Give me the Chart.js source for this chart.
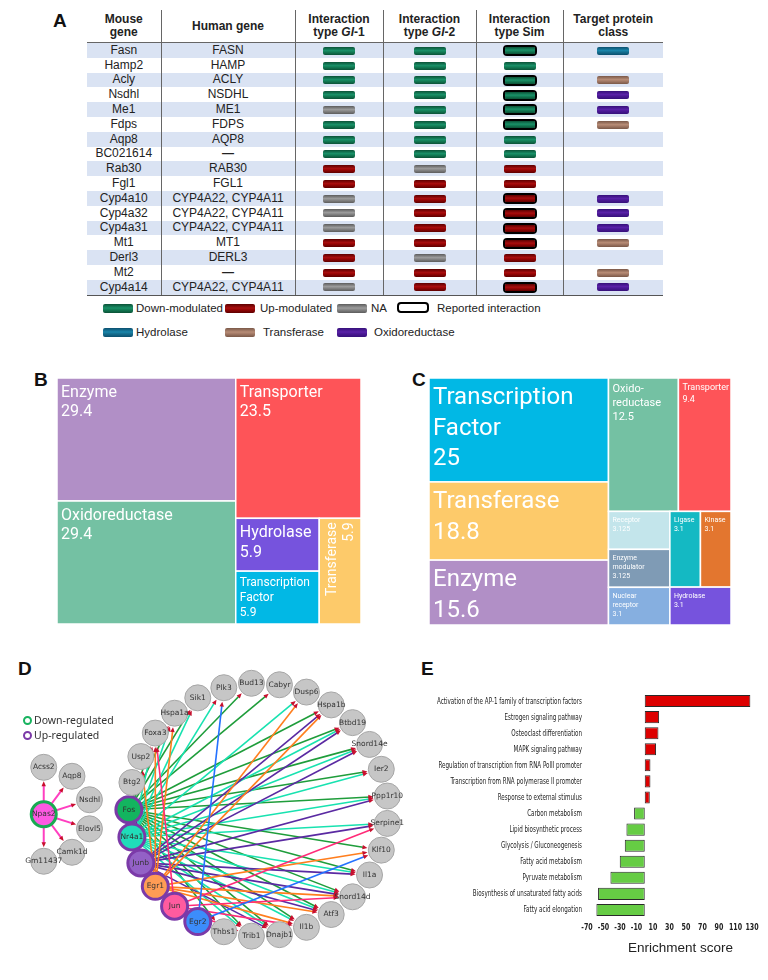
<!DOCTYPE html>
<html>
<head>
<meta charset="utf-8">
<title>Figure</title>
<script src="https://cdn.jsdelivr.net/npm/chart.js@4.4.1/dist/chart.umd.min.js"></script>
<style>
  body { margin: 0; width: 768px; height: 980px; position: relative; overflow: hidden; background: #fff;
         font-family: "Liberation Sans", Arial, sans-serif; color: #222; }
  canvas { position: absolute; }
  .panel { position: absolute; font: bold 19px/19px "Liberation Sans", Arial, sans-serif; color: #111; }
  #tableA { position: absolute; left: 87px; top: 10px; width: 576px; border-collapse: collapse; table-layout: fixed; font-size: 12px; }
  #tableA th { height: 32px; padding: 0; font-weight: bold; line-height: 13px; border-bottom: 1.5px solid #666; color: #222; vertical-align: middle; }
  #tableA td { height: 14.8px; padding: 0; line-height: 13px; text-align: center; white-space: nowrap; vertical-align: middle; }
  #tableA tbody tr:nth-child(odd) td { background: #dae3f3; }
  #tableA th + th, #tableA td + td { border-left: 1px solid #666; }
  #tableA tbody tr:last-child td { border-bottom: 1.5px solid #555; }
  .pill { display: inline-block; width: 32px; height: 8px; border-radius: 2px; vertical-align: middle; }
  .rep { display: inline-block; border: 2.5px solid #000; border-radius: 4px; line-height: 0; vertical-align: middle; }
  .rep .pill { width: 30px; height: 7px; border-radius: 1px; }
  .down { background: linear-gradient(#0b5237, #1a9068 45%, #138058 60%, #0b5237); }
  .up { background: linear-gradient(#5e0000, #a80e0e 45%, #990505 60%, #5e0000); }
  .na { background: linear-gradient(#5c5c5c, #9c9c9c 45%, #8a8a8a 60%, #5c5c5c); }
  .hydrolase { background: linear-gradient(#0c4f6e, #1a86ab 45%, #167394 60%, #0c4f6e); }
  .transferase { background: linear-gradient(#7a5848, #b78c76 45%, #a87e6a 60%, #7a5848); }
  .oxidoreductase { background: linear-gradient(#36107a, #5a22a8 45%, #4d1a98 60%, #36107a); }
  .legA { position: absolute; font-size: 11.5px; line-height: 14px; color: #222; white-space: nowrap; }
  .sw { position: absolute; width: 30px; height: 9px; border-radius: 2px; }
  .swRep { position: absolute; width: 28px; height: 7px; border: 2.5px solid #000; border-radius: 4px; background: #fff; }
  .legD { position: absolute; left: 23px; font: 10.5px/14px "Noto Sans", sans-serif; color: #333; white-space: nowrap; }
  .legD span { display: inline-block; width: 5px; height: 5px; border: 2px solid; border-radius: 50%; margin-right: 2px; vertical-align: -1px; }
  #eTitle { position: absolute; left: 628px; top: 940px; width: 104px; text-align: center; font-size: 13.5px; line-height: 16px; color: #222; white-space: nowrap; }
</style>
</head>
<body>

<div class="panel" style="left:53px;top:11px">A</div>
<div class="panel" style="left:34px;top:370px">B</div>
<div class="panel" style="left:412px;top:370px">C</div>
<div class="panel" style="left:18px;top:659px">D</div>
<div class="panel" style="left:421px;top:659px">E</div>

<table id="tableA">
  <colgroup><col style="width:74px"><col style="width:134px"><col style="width:88px"><col style="width:93px"><col style="width:87px"><col style="width:100px"></colgroup>
  <thead><tr>
    <th>Mouse<br>gene</th><th>Human gene</th><th>Interaction<br>type <i>GI</i>-1</th>
    <th>Interaction<br>type <i>GI</i>-2</th><th>Interaction<br>type Sim</th><th>Target protein<br>class</th>
  </tr></thead>
  <tbody id="tableBody"></tbody>
</table>

<div class="sw down" style="left:103px;top:304px"></div><div class="legA" style="left:136px;top:301px">Down-modulated</div>
<div class="sw up" style="left:225px;top:304px"></div><div class="legA" style="left:260px;top:301px">Up-modulated</div>
<div class="sw na" style="left:337px;top:304px"></div><div class="legA" style="left:371px;top:301px">NA</div>
<div class="swRep" style="left:397px;top:302px"></div><div class="legA" style="left:437px;top:301px">Reported interaction</div>
<div class="sw hydrolase" style="left:103px;top:328px"></div><div class="legA" style="left:136px;top:325px">Hydrolase</div>
<div class="sw transferase" style="left:225px;top:328px"></div><div class="legA" style="left:263px;top:325px">Transferase</div>
<div class="sw oxidoreductase" style="left:337px;top:328px"></div><div class="legA" style="left:374px;top:325px">Oxidoreductase</div>

<canvas id="chartB" width="304" height="246" style="left:57px;top:378px"></canvas>
<canvas id="chartC" width="302" height="247" style="left:429px;top:378px"></canvas>
<canvas id="chartD" width="430" height="335" style="left:0px;top:640px"></canvas>
<canvas id="chartE" width="388" height="330" style="left:380px;top:640px"></canvas>

<div class="legD" style="top:713px"><span style="border-color:#18b35f"></span>Down-regulated</div>
<div class="legD" style="top:728px"><span style="border-color:#7b3aa8"></span>Up-regulated</div>
<div id="eTitle">Enrichment score</div>

<script>
// ---------- Panel A: gene table ----------
const mouseGenes = ['Fasn', 'Hamp2', 'Acly', 'Nsdhl', 'Me1', 'Fdps', 'Aqp8', 'BC021614', 'Rab30', 'Fgl1',
                    'Cyp4a10', 'Cyp4a32', 'Cyp4a31', 'Mt1', 'Derl3', 'Mt2', 'Cyp4a14'];
const humanGenes = ['FASN', 'HAMP', 'ACLY', 'NSDHL', 'ME1', 'FDPS', 'AQP8', '—', 'RAB30', 'FGL1',
                    'CYP4A22, CYP4A11', 'CYP4A22, CYP4A11', 'CYP4A22, CYP4A11', 'MT1', 'DERL3', '—', 'CYP4A22, CYP4A11'];
const typeGI1 = ['down', 'down', 'down', 'down', 'na', 'down', 'down', 'down', 'up', 'up', 'na', 'na', 'na', 'up', 'up', 'up', 'na'];
const typeGI2 = ['down', 'down', 'down', 'down', 'down', 'down', 'down', 'down', 'na', 'up', 'up', 'up', 'up', 'up', 'na', 'up', 'up'];
const typeSim = ['down', 'down', 'down', 'down', 'down', 'down', 'down', 'down', 'up', 'up', 'up', 'up', 'up', 'up', 'up', 'up', 'up'];
const reportedSim = [1, 0, 1, 1, 1, 1, 0, 0, 0, 0, 1, 1, 1, 1, 0, 0, 1];
const targetClass = ['hydrolase', '', 'transferase', 'oxidoreductase', 'oxidoreductase', 'transferase', '', '', '', '',
                     'oxidoreductase', 'oxidoreductase', 'oxidoreductase', 'transferase', '', 'transferase', 'oxidoreductase'];

// ---------- Panel B / C: protein class treemaps (percent) ----------
const bClasses = ['Enzyme', 'Oxidoreductase', 'Transporter', 'Hydrolase', 'Transcription Factor', 'Transferase'];
const bPercent = [29.4, 29.4, 23.5, 5.9, 5.9, 5.9];
const cClasses = ['Transcription Factor', 'Transferase', 'Enzyme', 'Oxidoreductase', 'Transporter', 'Receptor',
                  'Enzyme modulator', 'Nuclear receptor', 'Ligase', 'Kinase', 'Hydrolase'];
const cPercent = [25, 18.8, 15.6, 12.5, 9.4, 3.125, 3.125, 3.1, 3.1, 3.1, 3.1];

// ---------- Panel D: regulatory network ----------
const ringNodes = ['Fos', 'Nr4a1', 'Junb', 'Egr1', 'Jun', 'Egr2', 'Thbs1', 'Trib1', 'Dnajb1', 'Il1b', 'Atf3', 'Snord14d',
                   'Il1a', 'Klf10', 'Serpine1', 'Ppp1r10', 'Ier2', 'Snord14e', 'Btbd19', 'Hspa1b', 'Dusp6', 'Cabyr',
                   'Bud13', 'Plk3', 'Sik1', 'Hspa1a', 'Foxa3', 'Usp2', 'Btg2'];
const regulators = ['Fos', 'Nr4a1', 'Junb', 'Egr1', 'Jun', 'Egr2'];
const fosTargets = ['Foxa3', 'Hspa1a', 'Sik1', 'Bud13', 'Cabyr', 'Hspa1b', 'Btbd19', 'Snord14e', 'Ier2', 'Ppp1r10',
                    'Klf10', 'Il1a', 'Snord14d', 'Atf3', 'Il1b', 'Dnajb1', 'Trib1', 'Thbs1'];
const nr4a1Targets = ['Foxa3', 'Hspa1a', 'Sik1', 'Plk3', 'Dusp6', 'Btbd19', 'Snord14e', 'Ier2', 'Ppp1r10', 'Serpine1',
                      'Il1a', 'Snord14d', 'Atf3', 'Il1b', 'Dnajb1', 'Trib1'];
const junbTargets = ['Btg2', 'Hspa1b', 'Btbd19', 'Snord14e', 'Ppp1r10', 'Serpine1', 'Il1a', 'Snord14d', 'Atf3', 'Dnajb1'];
const egr1Targets = ['Usp2', 'Foxa3', 'Hspa1a', 'Dusp6', 'Hspa1b', 'Klf10', 'Snord14d', 'Atf3', 'Il1b'];
const junTargets = ['Foxa3', 'Serpine1', 'Snord14d', 'Il1b', 'Trib1'];
const egr2Targets = ['Plk3', 'Klf10', 'Thbs1'];
const hubNode = 'Npas2';
const hubTargets = ['Acss2', 'Aqp8', 'Nsdhl', 'Elovl5', 'Camk1d', 'Gm11437'];

// ---------- Panel E: enrichment ----------
const terms = ['Activation of the AP-1 family of transcription factors', 'Estrogen signaling pathway',
               'Osteoclast differentiation', 'MAPK signaling pathway', 'Regulation of transcription from RNA PolII promoter',
               'Transcription from RNA polymerase II promoter', 'Response to external stimulus', 'Carbon metabolism',
               'Lipid biosynthetic process', 'Glycolysis / Gluconeogenesis', 'Fatty acid metabolism', 'Pyruvate metabolism',
               'Biosynthesis of unsaturated fatty acids', 'Fatty acid elongation'];
const enrichment = [128, 17.4, 16.6, 13.7, 6.9, 6.9, 6.1, -12.9, -22.2, -24.2, -30.3, -41.6, -56.6, -58.6];
const enrichmentTicks = [-70, -50, -30, -10, 10, 30, 50, 70, 90, 110, 130];

// ---------- styles ----------
const classColours = {
  'Enzyme': '#b18fc6', 'Oxidoreductase': '#74c1a3', 'Transporter': '#fe5458', 'Hydrolase': '#7653dd',
  'Transcription Factor': '#01b8e5', 'Transferase': '#fdca6a', 'Receptor': '#c3e5eb',
  'Enzyme modulator': '#7f9bb5', 'Nuclear receptor': '#86afe0', 'Ligase': '#14b9c3', 'Kinase': '#e3762f'
};
const regulatorFill = {Fos: '#13b45f', Nr4a1: '#20dcb9', Junb: '#9361c6', Egr1: '#ff9c55', Jun: '#ff5b9f', Egr2: '#3c8dfb'};
const edgeColour = {Fos: '#1f9d3b', Nr4a1: '#18e2b0', Junb: '#5a2aa2', Egr1: '#ff7e1e', Jun: '#ff2b78', Egr2: '#2472ff'};
const narrowFont = '"Liberation Sans Narrow", "DejaVu Sans Condensed", "Liberation Sans", sans-serif';

Chart.defaults.animation = false;
Chart.defaults.color = '#222';

// build table
function pill(kind) { return kind ? '<span class="pill ' + kind + '"></span>' : ''; }
const tbody = document.getElementById('tableBody');
mouseGenes.forEach((g, i) => {
  const sim = reportedSim[i] ? '<span class="rep">' + pill(typeSim[i]) + '</span>' : pill(typeSim[i]);
  const human = humanGenes[i] === '—' ? '<b>—</b>' : humanGenes[i];
  tbody.insertAdjacentHTML('beforeend',
    '<tr><td>' + g + '</td><td>' + human + '</td><td>' + pill(typeGI1[i]) + '</td><td>' + pill(typeGI2[i]) +
    '</td><td>' + sim + '</td><td>' + pill(targetClass[i]) + '</td></tr>');
});

// squarified treemap (golden ratio), same rule as d3.treemapSquarify
function squarify(values, x0, y0, x1, y1, ratio) {
  const rects = [];
  let value = values.reduce((a, b) => a + b, 0);
  let i0 = 0, i1 = 0;
  const n = values.length;
  while (i0 < n) {
    const dx = x1 - x0, dy = y1 - y0;
    let sum = values[i1++];
    let minV = sum, maxV = sum;
    const alpha = Math.max(dy / dx, dx / dy) / (value * ratio);
    let beta = sum * sum * alpha;
    let minRatio = Math.max(maxV / beta, beta / minV);
    for (; i1 < n; ++i1) {
      const v = values[i1];
      sum += v;
      if (v < minV) minV = v;
      if (v > maxV) maxV = v;
      beta = sum * sum * alpha;
      const r = Math.max(maxV / beta, beta / minV);
      if (r > minRatio) { sum -= v; break; }
      minRatio = r;
    }
    if (dx < dy) {
      const yy = y0 + dy * sum / value;
      let x = x0;
      for (let i = i0; i < i1; i++) { const w = dx * values[i] / sum; rects[i] = [x, y0, x + w, yy]; x += w; }
      y0 = yy;
    } else {
      const xx = x0 + dx * sum / value;
      let y = y0;
      for (let i = i0; i < i1; i++) { const h = dy * values[i] / sum; rects[i] = [x0, y, xx, y + h]; y += h; }
      x0 = xx;
    }
    value -= sum;
    i0 = i1;
  }
  return rects;
}

const treemapPlugin = {
  id: 'treemapCells',
  afterDatasetsDraw(chart, args, opts) {
    const {ctx, scales: {x, y}} = chart;
    const ds = chart.data.datasets[0];
    ctx.save();
    ds.data.forEach((d, i) => {
      const l = x.getPixelForValue(d.x0), r = x.getPixelForValue(d.x1);
      const t = y.getPixelForValue(d.y0), b = y.getPixelForValue(d.y1);
      const name = chart.data.labels[i];
      ctx.fillStyle = classColours[name];
      ctx.fillRect(l, t, r - l, b - t);
      ctx.strokeStyle = '#fff';
      ctx.lineWidth = 1.5;
      ctx.strokeRect(l, t, r - l, b - t);

      const size = opts.sizes[i];
      const lh = size * opts.lineHeight;
      const lines = opts.wrap[i].split('\n').concat([String(d.v)]);
      ctx.save();
      ctx.beginPath(); ctx.rect(l, t, r - l, b - t); ctx.clip();
      ctx.fillStyle = '#fff';
      ctx.font = size + 'px Roboto, "Open Sans", sans-serif';
      if (opts.rotated[i]) {
        ctx.translate(l, t);
        ctx.rotate(-Math.PI / 2);
        ctx.textAlign = 'right';
        lines.forEach((s, k) => ctx.fillText(s, -4, 4 + size * 0.93 + k * lh));
      } else {
        ctx.textAlign = 'left';
        lines.forEach((s, k) => ctx.fillText(s, l + 4, t + 4 + size * 0.93 + k * lh));
      }
      ctx.restore();
    });
    ctx.restore();
  }
};

function makeTreemap(id, classes, values, style) {
  const canvas = document.getElementById(id);
  const aspect = canvas.width / canvas.height;
  const rects = squarify(values, 0, 0, aspect, 1, (1 + Math.sqrt(5)) / 2);
  const cells = rects.map((r, i) => ({x: (r[0] + r[2]) / 2, y: (r[1] + r[3]) / 2,
                                      x0: r[0], y0: r[1], x1: r[2], y1: r[3], v: values[i]}));
  new Chart(canvas, {
    type: 'scatter',
    data: {labels: classes, datasets: [{data: cells, pointRadius: 0}]},
    options: {
      responsive: false,
      layout: {padding: 0},
      plugins: {legend: {display: false}, tooltip: {enabled: false}, treemapCells: style},
      scales: {
        x: {display: false, min: 0, max: aspect},
        y: {display: false, min: 0, max: 1, reverse: true}
      }
    },
    plugins: [treemapPlugin]
  });
}

makeTreemap('chartB', bClasses, bPercent, {
  wrap: ['Enzyme', 'Oxidoreductase', 'Transporter', 'Hydrolase', 'Transcription\nFactor', 'Transferase'],
  sizes: [16, 16, 16, 16, 12, 14],
  rotated: [0, 0, 0, 0, 0, 1],
  lineHeight: 1.22
});
makeTreemap('chartC', cClasses, cPercent, {
  wrap: ['Transcription\nFactor', 'Transferase', 'Enzyme', 'Oxido-\nreductase', 'Transporter', 'Receptor',
         'Enzyme\nmodulator', 'Nuclear\nreceptor', 'Ligase', 'Kinase', 'Hydrolase'],
  sizes: [24, 24, 24, 11, 9, 7, 7, 7, 7, 7, 7],
  rotated: [0, 0, 0, 0, 0, 0, 0, 0, 0, 0, 0],
  lineHeight: 1.27
});

// ---------- network ----------
const regulatorTargets = [fosTargets, nr4a1Targets, junbTargets, egr1Targets, junTargets, egr2Targets];
const hubCentre = {x: -1.657, y: 0.036};   // layout units: ring radius = 1
const hubSpoke = 0.371;
const netPos = {};
ringNodes.forEach((n, i) => {
  const a = Math.PI - i * 2 * Math.PI / ringNodes.length;
  netPos[n] = {x: Math.cos(a), y: Math.sin(a)};
});
netPos[hubNode] = {x: hubCentre.x, y: hubCentre.y};
hubTargets.forEach((n, k) => {
  const a = -Math.PI / 2 + k * Math.PI / (hubTargets.length - 1);
  netPos[n] = {x: hubCentre.x + hubSpoke * Math.cos(a), y: hubCentre.y + hubSpoke * Math.sin(a)};
});
const allNodes = ringNodes.concat([hubNode], hubTargets);

function nodeFill(n) { return n === hubNode ? '#ff58e2' : (regulatorFill[n] || '#c6c6c6'); }
function nodeBorder(n) { return n === hubNode ? '#19aa52' : (regulatorFill[n] ? '#7b3aa8' : '#a6a6a6'); }
function nodeBorderWidth(n) { return (n === hubNode || regulatorFill[n]) ? 3 : 1; }

const edgePlugin = {
  id: 'networkEdges',
  beforeDatasetsDraw(chart) {
    const {ctx, scales: {x, y}} = chart;
    const px = n => ({x: x.getPixelForValue(netPos[n].x), y: y.getPixelForValue(netPos[n].y)});
    function arrow(from, to, colour, width, gap) {
      const dx = to.x - from.x, dy = to.y - from.y;
      const len = Math.hypot(dx, dy);
      const ux = dx / len, uy = dy / len;
      const ex = to.x - ux * gap, ey = to.y - uy * gap;
      ctx.strokeStyle = colour;
      ctx.lineWidth = width;
      ctx.beginPath(); ctx.moveTo(from.x, from.y); ctx.lineTo(ex - ux * 3, ey - uy * 3); ctx.stroke();
      ctx.fillStyle = '#c8102e';
      ctx.beginPath();
      ctx.moveTo(ex, ey);
      ctx.lineTo(ex - ux * 5 - uy * 2.2, ey - uy * 5 + ux * 2.2);
      ctx.lineTo(ex - ux * 5 + uy * 2.2, ey - uy * 5 - ux * 2.2);
      ctx.closePath(); ctx.fill();
    }
    ctx.save();
    regulators.forEach((r, k) => regulatorTargets[k].forEach(t => arrow(px(r), px(t), edgeColour[r], 1.6, 14)));
    hubTargets.forEach(t => arrow(px(hubNode), px(t), '#ff3fc0', 2, 14));
    ctx.restore();
  },
  afterDatasetsDraw(chart) {
    const {ctx, scales: {x, y}} = chart;
    ctx.save();
    ctx.font = '7.5px "DejaVu Sans", sans-serif';
    ctx.fillStyle = '#333';
    ctx.textAlign = 'center';
    ctx.textBaseline = 'middle';
    allNodes.forEach(n => ctx.fillText(n, x.getPixelForValue(netPos[n].x), y.getPixelForValue(netPos[n].y)));
    ctx.restore();
  }
};

new Chart(document.getElementById('chartD'), {
  type: 'scatter',
  data: {
    labels: allNodes,
    datasets: [{
      data: allNodes.map(n => ({x: netPos[n].x, y: netPos[n].y})),
      pointRadius: allNodes.map(n => n === hubNode ? 12.5 : 13),
      backgroundColor: allNodes.map(nodeFill),
      borderColor: allNodes.map(nodeBorder),
      borderWidth: allNodes.map(nodeBorderWidth),
      clip: false
    }]
  },
  options: {
    responsive: false,
    layout: {padding: 0},
    plugins: {legend: {display: false}, tooltip: {enabled: false}},
    scales: {
      x: {display: false, min: -1.871, max: 1.2},
      y: {display: false, min: -1.214, max: 1.179, reverse: true}
    }
  },
  plugins: [edgePlugin]
});

// ---------- enrichment bars ----------
// condensed text for the term names and the score ticks
const condensedLabels = {
  id: 'condensedLabels',
  afterDraw(chart) {
    const {ctx, chartArea, scales: {x, y}} = chart;
    ctx.save();
    ctx.fillStyle = '#222';
    ctx.font = '9.5px ' + narrowFont;
    const widest = Math.max(...chart.data.labels.map(l => ctx.measureText(l).width));
    const squeeze = Math.min(1, 145 / widest);
    ctx.textAlign = 'right';
    ctx.textBaseline = 'middle';
    chart.data.labels.forEach((l, i) => {
      ctx.save();
      ctx.translate(chartArea.left - 5, y.getPixelForValue(i));
      ctx.scale(squeeze, 1);
      ctx.fillText(l, 0, 0);
      ctx.restore();
    });
    ctx.font = 'bold 9px ' + narrowFont;
    ctx.textAlign = 'center';
    x.ticks.forEach(t => {
      ctx.save();
      ctx.translate(x.getPixelForValue(t.value), chartArea.bottom + 10);
      ctx.scale(0.78, 1);
      ctx.fillText(String(t.value), 0, 0);
      ctx.restore();
    });
    ctx.restore();
  }
};

new Chart(document.getElementById('chartE'), {
  type: 'bar',
  data: {
    labels: terms,
    datasets: [{
      data: enrichment,
      backgroundColor: c => c.raw >= 0 ? '#dd0000' : '#66cc44',
      borderColor: '#2a2a2a',
      borderWidth: 1,
      borderSkipped: false,
      barPercentage: 0.75,
      categoryPercentage: 1
    }]
  },
  options: {
    indexAxis: 'y',
    responsive: false,
    layout: {padding: {top: 53, right: 16, bottom: 0, left: 0}},
    plugins: {legend: {display: false}, tooltip: {enabled: false}},
    scales: {
      x: {
        min: -70, max: 130,
        afterBuildTicks: s => { s.ticks = enrichmentTicks.map(v => ({value: v})); },
        afterFit: s => { s.height = 52; },
        grid: {display: false, drawTicks: false},
        border: {display: false},
        ticks: {display: false}
      },
      y: {
        afterFit: s => { s.width = 207; },
        grid: {display: false},
        border: {display: false},
        ticks: {display: false}
      }
    }
  },
  plugins: [condensedLabels]
});
</script>
</body>
</html>
